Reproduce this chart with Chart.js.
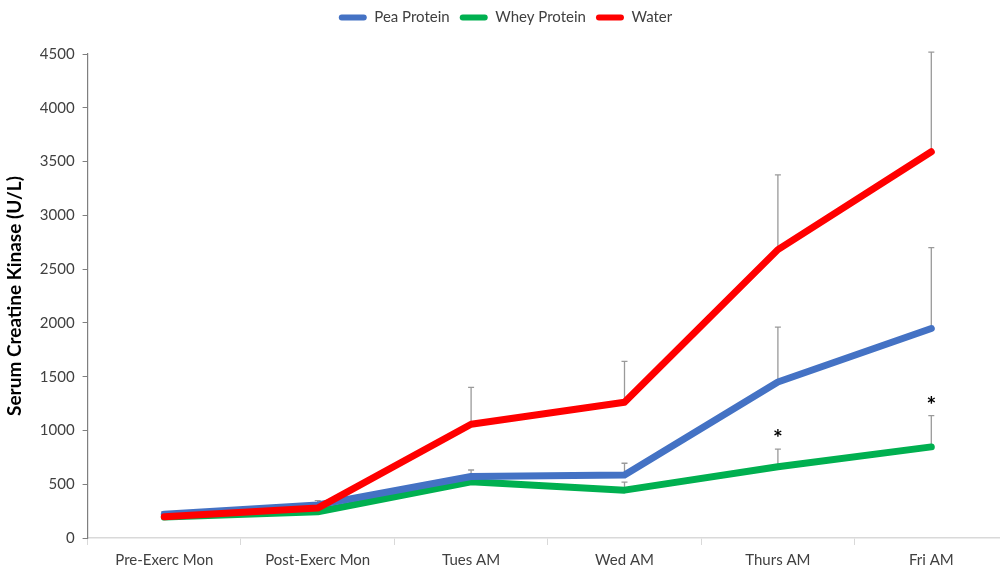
<!DOCTYPE html>
<html><head><meta charset="utf-8">
<script src="https://cdn.jsdelivr.net/npm/chart.js@4.4.0/dist/chart.umd.min.js"></script>
<style>html,body{margin:0;padding:0;background:#fff;overflow:hidden;width:1000px;height:569px}#wrap{width:1010px;height:569px;position:relative}</style>
</head><body><div id="wrap"><canvas id="c"></canvas></div>
<script>
const categories = ["Pre-Exerc Mon","Post-Exerc Mon","Tues AM","Wed AM","Thurs AM","Fri AM"];
const peaValues   = [220, 308, 572, 585, 1450, 1948];
const wheyValues  = [195, 244, 523, 445, 662, 847];
const waterValues = [198, 278, 1058, 1262, 2681, 3591];
const peaErr   = [25, 40, 60, 110, 510, 752];
const wheyErr  = [0, 0, 0, 75, 165, 290];
const waterErr = [0, 0, 342, 380, 696, 927];
const wheySig  = ["", "", "", "", "*", "*"];
const yTicks = [0,500,1000,1500,2000,2500,3000,3500,4000,4500];

const FONT = "Lato, 'Open Sans', sans-serif";

const legendGap = {
  id: 'legendGap',
  beforeInit(chart) {
    const origFit = chart.legend.fit;
    chart.legend.fit = function () { origFit.bind(chart.legend)(); this.height += 19; };
  }
};

const errorPlugin = {
  id: 'errbars',
  beforeDatasetsDraw(chart) {
    const ctx = chart.ctx, x = chart.scales.x, y = chart.scales.y;
    const sets = [[peaValues, peaErr],[wheyValues, wheyErr],[waterValues, waterErr]];
    ctx.save();
    ctx.strokeStyle = '#9a9a9a';
    ctx.lineWidth = 1.3;
    sets.forEach(([v, e]) => {
      v.forEach((val, i) => {
        if (!e[i]) return;
        const px = x.getPixelForValue(i);
        const y0 = y.getPixelForValue(val), y1 = y.getPixelForValue(val + e[i]);
        ctx.beginPath();
        ctx.moveTo(px, y0); ctx.lineTo(px, y1);
        ctx.moveTo(px - 3, y1); ctx.lineTo(px + 3, y1);
        ctx.stroke();
      });
    });
    ctx.restore();
  },
  afterDatasetsDraw(chart) {
    const ctx = chart.ctx, x = chart.scales.x, y = chart.scales.y;
    ctx.save();
    ctx.fillStyle = '#000';
    ctx.font = "bold 23px " + FONT;
    ctx.textAlign = 'center';
    ctx.textBaseline = 'middle';
    wheySig.forEach((s, i) => {
      if (!s) return;
      const px = x.getPixelForValue(i);
      const py = y.getPixelForValue(wheyValues[i] + wheyErr[i]) - 10;
      ctx.fillText(s, px, py);
    });
    ctx.restore();
  }
};

new Chart(document.getElementById('c'), {
  type: 'line',
  data: {
    labels: categories,
    datasets: [
      {label:'Pea Protein', data: peaValues, borderColor:'#4472C4', backgroundColor:'#4472C4', order:1},
      {label:'Whey Protein', data: wheyValues, borderColor:'#00B050', backgroundColor:'#00B050', order:2},
      {label:'Water', data: waterValues, borderColor:'#FF0000', backgroundColor:'#FF0000', order:0}
    ]
  },
  options: {
    responsive: true,
    maintainAspectRatio: false,
    animation: false,
    devicePixelRatio: 1,
    layout: {padding: {left: 3, right: 2, top: 0, bottom: -6}},
    elements: {
      line: {borderWidth: 7, tension: 0, borderCapStyle: 'round', borderJoinStyle: 'round'},
      point: {radius: 0, hoverRadius: 0}
    },
    plugins: {
      tooltip: {enabled: false},
      legend: {
        position: 'top',
        labels: {
          boxWidth: 28, boxHeight: 6, padding: 10,
          color: '#404040',
          font: {family: FONT, size: 15},
          sort: (a, b) => a.datasetIndex - b.datasetIndex,
          generateLabels(chart) {
            return chart.data.datasets.map((d, i) => ({
              text: d.label, fillStyle: d.borderColor, strokeStyle: d.borderColor,
              lineWidth: 0, datasetIndex: i, hidden: false, borderRadius: 3, fontColor: '#404040'
            }));
          }
        }
      }
    },
    scales: {
      x: {
        offset: true,
        grid: {display: true, drawOnChartArea: false, drawTicks: true, tickLength: 7, offset: true, color: '#d9d9d9'},
        border: {color: '#d9d9d9', width: 1.5},
        ticks: {color: '#404040', font: {family: FONT, size: 15}, padding: 6, maxRotation: 0}
      },
      y: {
        min: 0, max: 4500,
        afterBuildTicks(scale) { scale.ticks = yTicks.map(v => ({value: v})); },
        grid: {display: true, drawOnChartArea: false, drawTicks: true, tickLength: 5, color: '#7f7f7f'},
        border: {color: '#7f7f7f', width: 1.2},
        ticks: {color: '#404040', font: {family: FONT, size: 15}, padding: 8, callback: (v) => String(v)},
        title: {display: true, text: 'Serum Creatine Kinase (U/L)', color: '#000', font: {family: FONT, size: 19, weight: 'bold'}, padding: {top: 0, bottom: 6}}
      }
    }
  },
  plugins: [errorPlugin, legendGap]
});
</script></body></html>
